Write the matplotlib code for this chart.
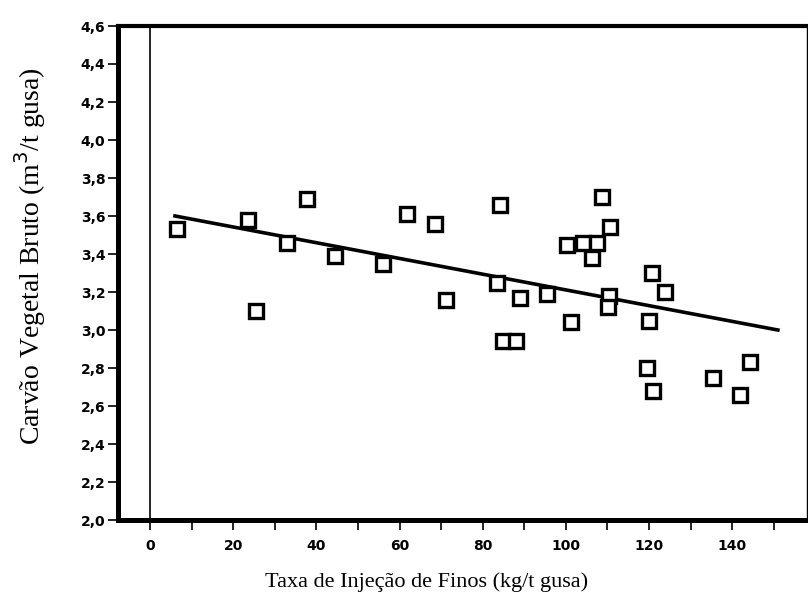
import matplotlib
matplotlib.use("Agg")
import matplotlib.pyplot as plt
import numpy as np
from matplotlib.ticker import MultipleLocator, FuncFormatter

# Data
taxa_injecao = [6.4, 23.6, 25.5, 32.9, 37.7, 44.5, 56.1, 61.8, 68.5, 71.1,
                84.2, 83.4, 85.0, 88.0, 89.0, 95.4, 101.2, 100.2, 104.2, 107.5,
                106.3, 108.7, 110.7, 110.5, 110.2, 120.7, 123.9, 119.9, 119.5, 120.9,
                135.5, 144.3, 141.8]
carvao_bruto = [3.53, 3.58, 3.10, 3.46, 3.69, 3.39, 3.35, 3.61, 3.56, 3.16,
                3.66, 3.25, 2.94, 2.94, 3.17, 3.19, 3.04, 3.45, 3.46, 3.46,
                3.38, 3.70, 3.54, 3.18, 3.12, 3.30, 3.20, 3.05, 2.80, 2.68,
                2.75, 2.83, 2.66]

# regression line
reg_intercept = 3.625
reg_slope = -0.00414
reg_x_range = [6.0, 151.0]

x_ticks_major = [0, 20, 40, 60, 80, 100, 120, 140]
y_ticks = [2.0, 2.2, 2.4, 2.6, 2.8, 3.0, 3.2, 3.4, 3.6, 3.8, 4.0, 4.2, 4.4, 4.6]

fig = plt.figure(figsize=(8.08, 6.14), dpi=100)
ax = fig.add_axes([118/808, 1-520/614, (807-118)/808, (520-26)/614])

ax.set_xlim(-7.7, 158)
ax.set_ylim(2.0, 4.6)

# zero line
ax.axvline(0, color='black', lw=1.2, zorder=1)

# regression line
rx = np.array(reg_x_range)
ax.plot(rx, reg_intercept + reg_slope * rx, color='black', lw=2.6, zorder=2)

# points
ax.plot(taxa_injecao, carvao_bruto, linestyle='none', marker='s', markersize=10,
        markerfacecolor='white', markeredgecolor='black', markeredgewidth=2.4, zorder=3)

# spines
ax.spines['left'].set_linewidth(3.6)
ax.spines['top'].set_linewidth(3.0)
ax.spines['bottom'].set_linewidth(3.6)
ax.spines['right'].set_linewidth(1.0)

# ticks
ax.xaxis.set_major_locator(MultipleLocator(10))
ax.xaxis.set_major_formatter(FuncFormatter(
    lambda v, p: f"{int(round(v))}" if (int(round(v)) in x_ticks_major) else ""))
ax.set_yticks(y_ticks)
ax.set_yticklabels([f"{v:.1f}".replace('.', ',') for v in y_ticks])
ax.tick_params(axis='both', direction='out', length=7, width=1.2, colors='black')
ax.tick_params(axis='y', pad=2)
ax.tick_params(axis='x', pad=7)
for lbl in ax.get_xticklabels() + ax.get_yticklabels():
    lbl.set_fontweight('bold')
    lbl.set_fontsize(10)
    lbl.set_family('DejaVu Sans')

fig.text(427/808, 1-582/614, "Taxa de Injeção de Finos (kg/t gusa)",
         ha='center', va='center', family='Liberation Serif', fontsize=16)
fig.text(30/808, 1-256/614, "Carvão Vegetal Bruto (m$^3$/t gusa)",
         ha='center', va='center', rotation=90, family='Liberation Serif', fontsize=20)

fig.savefig("out.png", dpi=100)
